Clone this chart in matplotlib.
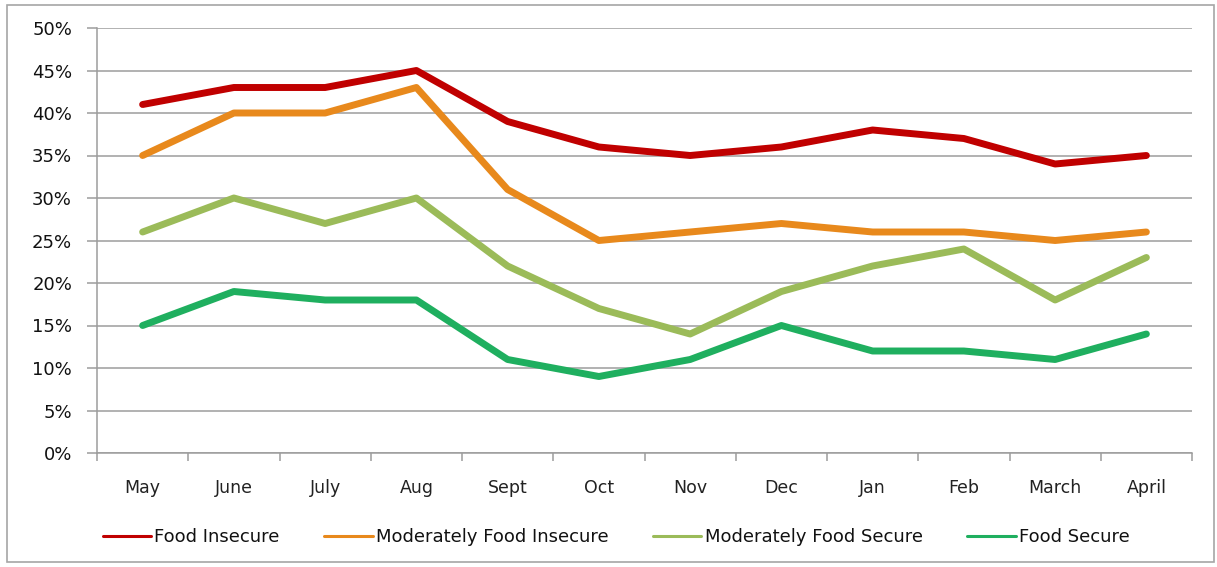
import matplotlib
matplotlib.use("Agg")
import matplotlib.pyplot as plt
from matplotlib.patches import Rectangle
from matplotlib.ticker import FixedLocator, PercentFormatter

months = ["May", "June", "July", "Aug", "Sept", "Oct", "Nov", "Dec", "Jan", "Feb", "March", "April"]
food_insecure = [41, 43, 43, 45, 39, 36, 35, 36, 38, 37, 34, 35]
mod_food_insecure = [35, 40, 40, 43, 31, 25, 26, 27, 26, 26, 25, 26]
mod_food_secure = [26, 30, 27, 30, 22, 17, 14, 19, 22, 24, 18, 23]
food_secure = [15, 19, 18, 18, 11, 9, 11, 15, 12, 12, 11, 14]
series_names = ["Food Insecure", "Moderately Food Insecure", "Moderately Food Secure", "Food Secure"]
colors = ["#C00000", "#E8891C", "#9BBB59", "#1FAF5F"]

plt.rcParams['font.family'] = ['DejaVu Sans']

W, H = 1217, 567
fig = plt.figure(figsize=(W / 100, H / 100), dpi=100)
fig.patches.append(Rectangle((7 / W, 5 / H), 1207 / W, 557 / H, transform=fig.transFigure,
                             fill=False, edgecolor="#A6A6A6", linewidth=1.2))
ax = fig.add_axes([97 / W, 1 - 453 / H, 1095 / W, 425 / H])

x = list(range(len(months)))
for vals, name, c in zip([food_insecure, mod_food_insecure, mod_food_secure, food_secure], series_names, colors):
    ax.plot(x, vals, color=c, linewidth=5.0, label=name, solid_joinstyle="round", solid_capstyle="round")

ax.set_xlim(-0.5, len(months) - 0.5)
ax.set_ylim(0, 50)
ax.set_yticks(range(0, 51, 5))
ax.yaxis.set_major_formatter(PercentFormatter(decimals=0))
ax.grid(axis="y", color="#9C9C9C", linewidth=1.1)
ax.set_axisbelow(True)

ax.set_xticks(x)
ax.set_xticklabels(months)
ax.xaxis.set_minor_locator(FixedLocator([i - 0.5 for i in range(len(months) + 1)]))
ax.tick_params(axis="x", which="major", length=0, pad=19, labelsize=12.5, colors="#222222")
ax.tick_params(axis="x", which="minor", length=6, width=1.1, color="#9C9C9C", direction="out")
ax.tick_params(axis="y", length=7, width=1.1, color="#9C9C9C", labelsize=13, labelcolor="#111111", pad=11)

for s in ["top", "right"]:
    ax.spines[s].set_visible(False)
for s in ["left", "bottom"]:
    ax.spines[s].set_color("#9C9C9C")
    ax.spines[s].set_linewidth(1.1)

leg = fig.legend(loc="center", bbox_to_anchor=(616 / W, 1 - 537 / H), ncol=4, frameon=False,
                 handlelength=2.7, handletextpad=0.17, columnspacing=2.45, fontsize=13)
for t in leg.get_texts():
    t.set_color("#111111")
for line in leg.get_lines():
    line.set_linewidth(2.2)

fig.savefig("out.png", dpi=100)
